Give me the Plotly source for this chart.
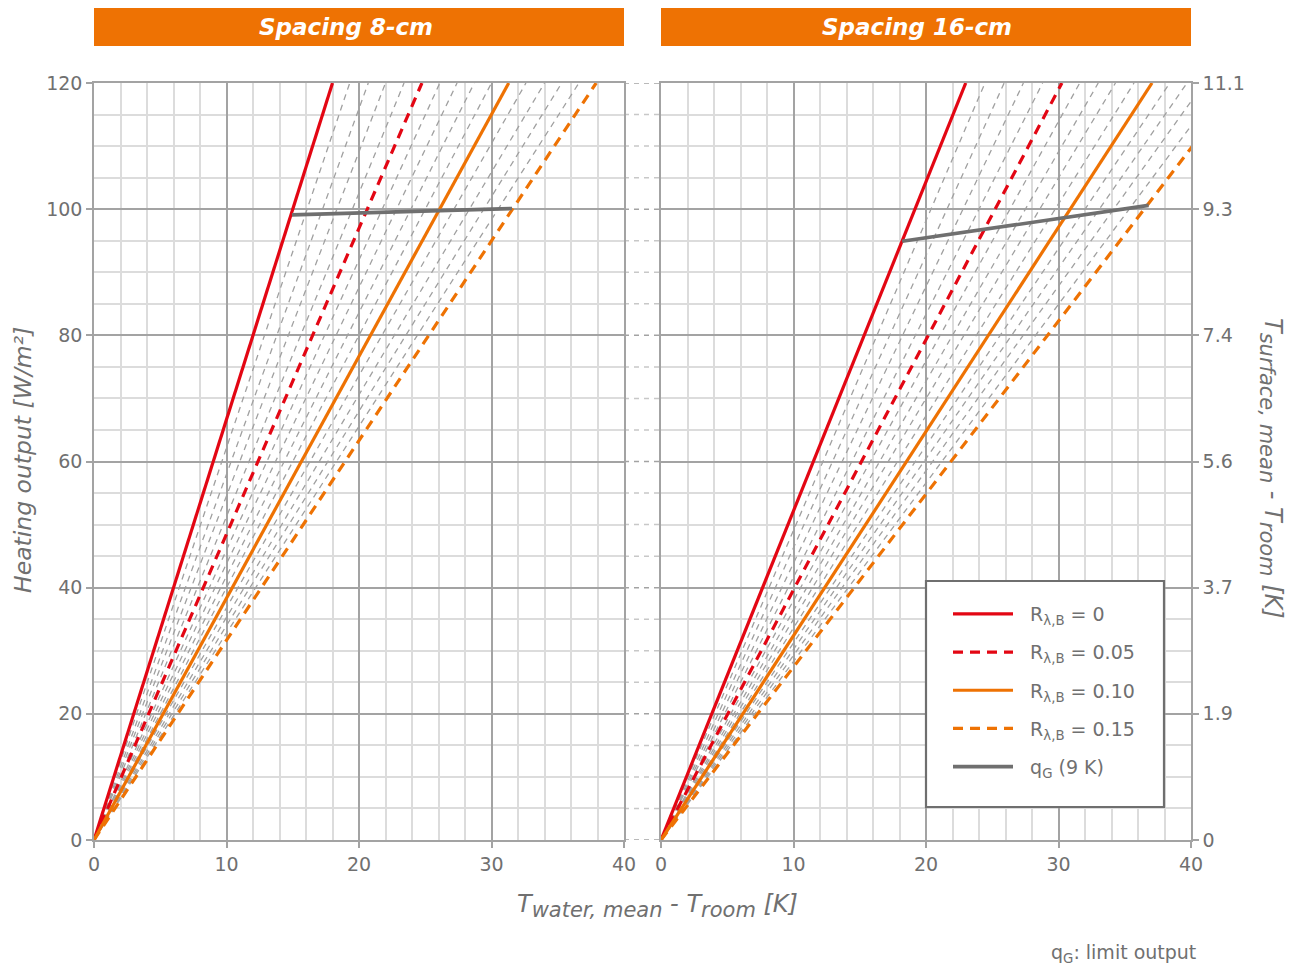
import plotly.graph_objects as go

# ---------------- data ----------------
R_VALUES = [0.00, 0.01, 0.02, 0.03, 0.04, 0.05, 0.06, 0.07,
            0.08, 0.09, 0.10, 0.11, 0.12, 0.13, 0.14, 0.15]
# temperature difference [K] at which each characteristic line reaches 120 W/m2
TOP_X_8CM = [18.0, 19.3, 20.7, 22.0, 23.4, 24.75, 26.1, 27.4,
             28.7, 30.0, 31.3, 32.6, 34.0, 35.3, 36.6, 37.9]
TOP_X_16CM = [23.0, 24.45, 25.9, 27.35, 28.8, 30.26, 31.6, 33.0,
              34.3, 35.7, 37.06, 38.4, 39.7, 41.0, 42.4, 43.76]
Y_TOP = 120

# limit output curve q_G (9 K)
LIMIT_8CM_X = [14.94, 31.55]
LIMIT_8CM_Y = [99.1, 100.1]
LIMIT_16CM_X = [18.2, 36.8]
LIMIT_16CM_Y = [94.9, 100.6]

X_TICKS = [0, 10, 20, 30, 40]
Y_TICKS = [0, 20, 40, 60, 80, 100, 120]
Y2_TICKTEXT = ["0", "1.9", "3.7", "5.6", "7.4", "9.3", "11.1"]
Y_MINOR = list(range(0, 121, 5))

PANEL_TITLES = ["Spacing 8-cm", "Spacing 16-cm"]
PAD = "\u00a0\u00a0"
LEGEND_NAMES = {0.00: PAD + "R<sub>λ,B</sub> = 0", 0.05: PAD + "R<sub>λ,B</sub> = 0.05",
                0.10: PAD + "R<sub>λ,B</sub> = 0.10", 0.15: PAD + "R<sub>λ,B</sub> = 0.15"}
QG_NAME = PAD + "q<sub>G</sub> (9 K)"

# ---------------- style ----------------
RED = "#E30613"
ORANGE = "#EE7203"
GREY_LINE = "#6F6F6F"
TXT = "#707070"
MAJOR = "#A3A3A3"
MINOR = "#DCDCDC"
FONT = "DejaVu Sans"

STYLE = {0.00: (RED, "solid"), 0.05: (RED, "10px,7px"),
         0.10: (ORANGE, "solid"), 0.15: (ORANGE, "10px,7px")}

# page is 1298x967; the browser body has an 8px margin, so the figure is 8px smaller
PAGE_W, PAGE_H, OFF = 1298, 967, 8
W, H = PAGE_W - OFF, PAGE_H - OFF


def px(x):   # page pixel x -> paper x
    return (x - OFF) / W


def py(y):   # page pixel y -> paper y
    return (PAGE_H - y) / H


XD1 = [px(94), px(624)]
XD2 = [px(661), px(1191)]
YD = [py(840), py(83)]

fig = go.Figure()

panels = [("x", "y", TOP_X_8CM, LIMIT_8CM_X, LIMIT_8CM_Y, True),
          ("x2", "y2", TOP_X_16CM, LIMIT_16CM_X, LIMIT_16CM_Y, False)]

for xa, ya, tops, lx, ly, show in panels:
    for r, t in zip(R_VALUES, tops):
        if round(r, 2) in STYLE:
            continue
        fig.add_trace(go.Scatter(x=[0, t], y=[0, Y_TOP], mode="lines", xaxis=xa, yaxis=ya,
                                 line=dict(color="#A0A0A0", width=1.3, dash="6px,5px"),
                                 showlegend=False, hoverinfo="skip"))
    for r, t in zip(R_VALUES, tops):
        key = round(r, 2)
        if key not in STYLE:
            continue
        c, d = STYLE[key]
        fig.add_trace(go.Scatter(x=[0, t], y=[0, Y_TOP], mode="lines", xaxis=xa, yaxis=ya,
                                 name=LEGEND_NAMES[key], legendgroup=str(key),
                                 line=dict(color=c, width=3.2, dash=d),
                                 showlegend=show))
    fig.add_trace(go.Scatter(x=lx, y=ly, mode="lines", xaxis=xa, yaxis=ya,
                             name=QG_NAME, legendgroup="qg",
                             line=dict(color=GREY_LINE, width=3.6),
                             showlegend=show))

axis_common = dict(showgrid=True, gridcolor=MAJOR, gridwidth=1.5, zeroline=False,
                   showline=True, linecolor=MAJOR, linewidth=1.5, mirror=True,
                   ticks="outside", ticklen=6, tickcolor=MAJOR, tickwidth=1.5,
                   automargin=False,
                   tickfont=dict(family=FONT, size=19, color=TXT))

fig.update_layout(
    xaxis=dict(domain=XD1, range=[0, 40], tickvals=X_TICKS, anchor="y",
               minor=dict(dtick=2, showgrid=True, gridcolor=MINOR, gridwidth=1.5), **axis_common),
    yaxis=dict(domain=YD, range=[0, 120], tickvals=Y_TICKS, anchor="x",
               minor=dict(dtick=5, showgrid=True, gridcolor=MINOR, gridwidth=1.5), **axis_common),
    xaxis2=dict(domain=XD2, range=[0, 40], tickvals=X_TICKS, anchor="y2",
                minor=dict(dtick=2, showgrid=True, gridcolor=MINOR, gridwidth=1.5), **axis_common),
    yaxis2=dict(domain=YD, range=[0, 120], tickvals=Y_TICKS, ticktext=Y2_TICKTEXT,
                anchor="x2", side="right",
                minor=dict(dtick=5, showgrid=True, gridcolor=MINOR, gridwidth=1.5), **axis_common),
)

shapes = []
for v in Y_MINOR:
    shapes.append(dict(type="line", xref="paper", yref="y", x0=XD1[1], x1=XD2[0], y0=v, y1=v,
                       line=dict(color=MAJOR if v % 20 == 0 else "#C8C8C8", width=1.5, dash="5px,5px"),
                       layer="below"))
for d in (XD1, XD2):
    shapes.append(dict(type="rect", xref="paper", yref="paper", x0=d[0], x1=d[1],
                       y0=py(46), y1=py(8), fillcolor=ORANGE, line=dict(width=0)))
shapes.append(dict(type="rect", xref="paper", yref="paper", x0=px(926), x1=px(1164),
                   y0=py(807), y1=py(581), fillcolor="white",
                   line=dict(color=GREY_LINE, width=2.2), layer="above"))

SUB = "<sub><span style='font-size:21px'>{}</span></sub>"
annotations = []
for cx, t in zip((346, 917), PANEL_TITLES):
    annotations.append(dict(text=t, xref="paper", yref="paper", x=px(cx),
                            y=py(27), showarrow=False, xanchor="center", yanchor="middle",
                            font=dict(family=FONT, size=23, color="white", weight="bold", style="italic")))
annotations.append(dict(text="Heating output [W/m²]", xref="paper", yref="paper",
                        x=px(23), y=py(460), textangle=-90, showarrow=False,
                        xanchor="center", yanchor="middle",
                        font=dict(family=FONT, size=23.5, color=TXT, style="italic")))
annotations.append(dict(text="T" + SUB.format("surface, mean") + " - T" + SUB.format("room") + " [K]",
                        xref="paper", yref="paper",
                        x=px(1271), y=py(468), textangle=90, showarrow=False,
                        xanchor="center", yanchor="middle",
                        font=dict(family=FONT, size=24, color=TXT, style="italic")))
annotations.append(dict(text="T" + SUB.format("water, mean") + " - T" + SUB.format("room") + " [K]",
                        xref="paper", yref="paper",
                        x=px(657), y=py(906), showarrow=False,
                        xanchor="center", yanchor="middle",
                        font=dict(family=FONT, size=24, color=TXT, style="italic")))
annotations.append(dict(text="q<sub>G</sub>: limit output", xref="paper", yref="paper",
                        x=px(1198), y=py(953), showarrow=False,
                        xanchor="right", yanchor="middle",
                        font=dict(family=FONT, size=19, color=TXT)))

fig.update_layout(
    width=W, height=H, margin=dict(l=0, r=0, t=0, b=0, autoexpand=False),
    paper_bgcolor="white", plot_bgcolor="white",
    shapes=shapes, annotations=annotations,
    legend=dict(x=px(948), y=py(595), xanchor="left", yanchor="top",
                bgcolor="rgba(0,0,0,0)", borderwidth=0, itemwidth=60,
                traceorder="grouped", tracegroupgap=10.5,
                font=dict(family=FONT, size=19, color=TXT)),
)

fig.write_html("out.html")
